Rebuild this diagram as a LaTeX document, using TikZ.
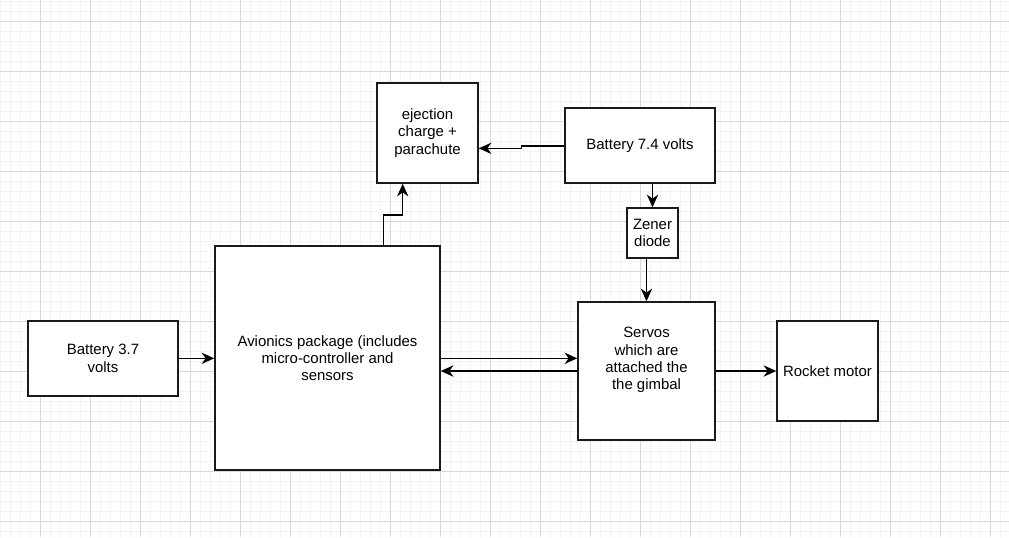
\documentclass[tikz,border=0pt]{standalone}
\usepackage{fontspec}
\setmainfont{Liberation Sans}
\usetikzlibrary{arrows.meta}
\definecolor{gridminor}{HTML}{F3F3F3}
\definecolor{gridmajor}{HTML}{D8D8D8}
\definecolor{boxline}{HTML}{1A1A1A}
\tikzset{
  blk/.style={draw=boxline, line width=1.1pt, fill=white, inner sep=0pt, align=center,
    font=\fontsize{11.2pt}{13pt}\selectfont},
  arr/.style={draw=black, line width=1.1pt, -{Stealth[length=9.5pt,width=8.5pt,inset=3pt]}},
  gminor/.style={draw=gridminor, line width=0.6pt},
  gmajor/.style={draw=gridmajor, line width=0.75pt},
  txt/.style={inner sep=0pt, align=center, font=\fontsize{11.2pt}{13pt}\selectfont}
}
\begin{document}
\begin{tikzpicture}[x=0.75pt,y=-0.75pt]
\useasboundingbox (0,0) rectangle (1009,537);
\fill[white] (0,0) rectangle (1009,537);
% grid
\foreach \i in {0,...,100} {\draw[gminor] ({0.7+10*\i},0) -- ({0.7+10*\i},537);}
\foreach \i in {0,...,53} {\draw[gminor] (0,{1.7+10*\i}) -- (1009,{1.7+10*\i});}
\foreach \i in {0,...,19} {\draw[gmajor] ({40.7+50*\i},0) -- ({40.7+50*\i},537);}
\foreach \i in {0,...,10} {\draw[gmajor] (0,{21.7+50*\i}) -- (1009,{21.7+50*\i});}

% boxes
\node[blk, minimum width=112.5pt, minimum height=56.25pt] (bat) at (103,358.5) {Battery 3.7\\volts};
\node[blk, minimum width=168.75pt, minimum height=168pt] (av) at (327.5,358) {Avionics package (includes\\micro-controller and\\sensors};
\node[blk, minimum width=75.75pt, minimum height=75pt] (ej) at (427.5,133) {ejection\\charge +\\parachute};
\node[blk, minimum width=112.5pt, minimum height=56.25pt] (bsev) at (640,145.5) {Battery 7.4 volts};
\node[blk, minimum width=38.25pt, minimum height=37.5pt] (zen) at (652.5,233) {Zener\\diode};
\node[blk, minimum width=102.75pt, minimum height=103.5pt] (serv) at (646.5,371) {};
\node[txt] (servtxt) at (646.5,360) {Servos\\which are\\attached the\\the gimbal};
\node[blk, minimum width=75.75pt, minimum height=75pt] (mot) at (827.5,371) {Rocket motor};

% helper coordinates
\coordinate (j1) at (383.3,215);
\coordinate (j2) at (402.7,215);
\coordinate (k1) at (521.7,146);
\coordinate (k2) at (521.7,148.3);
\coordinate (m1) at (0,358.3);

% connectors
\draw[arr] (bat.east |- m1) -- (av.west |- m1);
\draw[arr] (av.north -| j1) -- (j1) -- (j2) -- (ej.south -| j2);
\draw[arr] (bsev.west |- k1) -- (k1) -- (k2) -- (ej.east |- k2);
\draw[arr] (bsev.south -| zen.north) -- (zen.north);
\draw[arr] (zen.south -| serv.north) -- (serv.north);
\draw[arr] (av.east |- m1) -- (serv.west |- m1);
\draw[arr] (serv.west) -- (serv.west -| av.east);
\draw[arr] (serv.east) -- (mot.west);
\end{tikzpicture}
\end{document}
